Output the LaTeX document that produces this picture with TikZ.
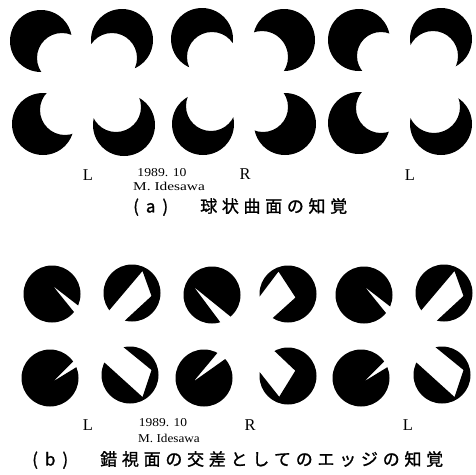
\documentclass[tikz,border=0pt]{standalone}
\usepackage{fontspec}
\setmainfont{Liberation Serif}
\newfontfamily\cjk[FakeBold=1.2]{Noto Sans CJK JP}
\usepackage{graphicx}
\newcommand\mycres[5]{%
  \begin{scope}[even odd rule]
    \clip (#1-60,#2-60) rectangle (#1+60,#2+60) (#3,#4) circle[radius=#5pt];
    \fill (#1,#2) circle[radius=31pt];
  \end{scope}}
\newcommand\bdisk[3]{%
  \begin{scope}[shift={(#1,#2)}, even odd rule]
    \clip (-60,-60) rectangle (60,60) #3;
    \fill (0,0) circle[radius=28.5pt];
  \end{scope}}
\tikzset{
  lbl/.style={inner sep=0pt, font=\fontsize{16.5}{18}\selectfont},
  small/.style={inner sep=0pt, font=\fontsize{12}{14}\selectfont},
  capt/.style={inner sep=0pt, anchor=west, font=\cjk\fontsize{17}{20}\selectfont},
}
\begin{document}
\begin{tikzpicture}[x=1pt,y=-1pt]
\fill[white] (0,0) rectangle (476,474);
\useasboundingbox (0,0) rectangle (476,474);
% (a) crescents
\mycres{41}{41}{62}{58}{25}
\mycres{122}{40}{112}{58}{25}
\mycres{43}{124}{65}{110}{25}
\mycres{124}{125}{116}{107}{25}
\mycres{202}{39}{212}{57}{25}
\mycres{284}{40}{262}{57}{26}
\mycres{203}{124}{211}{106}{25}
\mycres{285}{124}{263}{107}{25}
\mycres{359}{40}{381}{56}{24}
\mycres{441}{39}{433}{56}{25}
\mycres{359}{123}{381}{108}{25}
\mycres{441}{124}{434}{107}{26}
% (b) group 1 (L)
\bdisk{52}{294}{(1,-8) -- (32,16) -- (26,23) -- cycle}
\bdisk{132}{293}{(-42.3,40.4) -- (10.5,-22) -- (19.5,3) -- (-24.7,43.8) -- cycle}
\bdisk{50}{378}{(3,3.5) -- (28.2,-21.7) -- (32.4,-14.5) -- cycle}
\bdisk{130}{375}{(-46.7,-31.6) -- (12.5,22) -- (21.5,-5) -- (-24.4,-42.4) -- cycle}
% (b) group 2 (R)
\bdisk{212}{295}{(-18,-8) -- (24,26) -- (11.7,31.8) -- cycle}
\bdisk{288}{294}{(-40.1,18) -- (-9.5,-22.5) -- (7.5,3.5) -- (-28.5,35.9) -- cycle}
\bdisk{204}{378}{(-10.5,3.5) -- (15.4,-27.5) -- (25.9,-22.3) -- cycle}
\bdisk{288}{376}{(-41.2,-20.2) -- (-8.8,20.8) -- (7.3,-5.3) -- (-28.9,-39.5) -- cycle}
% (b) group 3 (L)
\bdisk{364}{295}{(1,-8) -- (32,16) -- (26,23) -- cycle}
\bdisk{444}{293}{(-42.3,40.4) -- (10.5,-22) -- (19.5,3) -- (-24.7,43.8) -- cycle}
\bdisk{361}{378}{(3,3.5) -- (28.2,-21.7) -- (32.4,-14.5) -- cycle}
\bdisk{442}{375}{(-46.7,-31.6) -- (12.5,22) -- (21.5,-5) -- (-24.4,-42.4) -- cycle}
% (a) labels
\node[lbl] (aL1) at (88,175) {L};
\node[lbl] (aR) at (245,174) {R};
\node[lbl] (aL2) at (410,175) {L};
\node[small] (adate) at (162,173) {\scalebox{1.14}[1]{1989. 10}};
\node[small] (aname) at (169,186) {\scalebox{1.28}[1]{M. Idesawa}};
\node[capt] (acap) at (133,207) {\makebox[35pt][s]{(\hfil a\hfil)}\hspace{32pt}\makebox[147pt][s]{球\hfil 状\hfil 曲\hfil 面\hfil の\hfil 知\hfil 覚}};
% (b) labels
\node[lbl] (bL1) at (88,425) {L};
\node[lbl] (bR) at (250,425) {R};
\node[lbl] (bL2) at (408,425) {L};
\node[small] (bdate) at (163,423) {\scalebox{1.12}[1]{1989. 10}};
\node[small] (bname) at (169,438) {\scalebox{1.1}[1]{M. Idesawa}};
\node[capt] (bcap) at (32,460) {\makebox[36pt][s]{(\hfil b\hfil)}\hspace{32pt}\makebox[343pt][s]{錯\hfil 視\hfil 面\hfil の\hfil 交\hfil 差\hfil と\hfil し\hfil て\hfil の\hfil エ\hfil ッ\hfil ジ\hfil の\hfil 知\hfil 覚}};
\end{tikzpicture}
\end{document}
